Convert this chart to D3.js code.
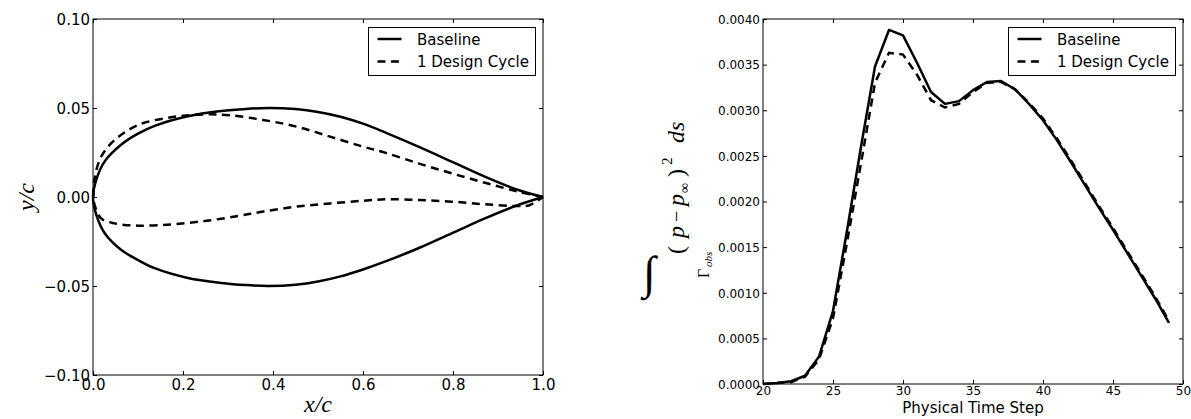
<!DOCTYPE html>
<html>
<head>
<meta charset="utf-8">
<script src="https://cdn.jsdelivr.net/npm/d3@7"></script>
<style>
  body { margin: 0; background: #fff; }
  svg { display: block; }
</style>
</head>
<body>
<div id="chart"></div>
<script>
// ---- data ----
// left panel: airfoil shapes (x/c, y/c)
const baseUpX = [0, 0.0074, 0.026, 0.063, 0.1, 0.137, 0.211, 0.285, 0.34, 0.39, 0.45, 0.5, 0.55, 0.6, 0.65, 0.723, 0.797, 0.871, 0.945, 1.0];
const baseUpY = [0, 0.0098, 0.0200, 0.0295, 0.0356, 0.0400, 0.0454, 0.0483, 0.0495, 0.0500, 0.0494, 0.0478, 0.0451, 0.0412, 0.0362, 0.0283, 0.0199, 0.0114, 0.0039, 0];
const baseLoX = [0, 0.0074, 0.026, 0.063, 0.1, 0.137, 0.211, 0.285, 0.34, 0.39, 0.45, 0.5, 0.55, 0.6, 0.65, 0.723, 0.797, 0.871, 0.945, 1.0];
const baseLoY = [0, -0.0101, -0.0204, -0.0298, -0.0354, -0.0400, -0.0455, -0.0483, -0.0495, -0.0500, -0.0493, -0.0475, -0.0446, -0.0407, -0.0362, -0.0288, -0.0204, -0.0120, -0.0045, 0];
const cycUpX = [0.001, 0.0037, 0.018, 0.048, 0.1, 0.174, 0.248, 0.304, 0.378, 0.453, 0.527, 0.6, 0.649, 0.723, 0.797, 0.871, 0.945, 1.0];
const cycUpY = [0.001, 0.0105, 0.0226, 0.0320, 0.0404, 0.0448, 0.0464, 0.0459, 0.0433, 0.0395, 0.0339, 0.0283, 0.0249, 0.0189, 0.0133, 0.0080, 0.0030, 0];
const cycLoX = [0.001, 0.0037, 0.018, 0.048, 0.1, 0.174, 0.248, 0.322, 0.378, 0.453, 0.527, 0.6, 0.652, 0.723, 0.797, 0.871, 0.945, 0.97, 1.0];
const cycLoY = [0.001, -0.0045, -0.0120, -0.0148, -0.0161, -0.0154, -0.0135, -0.0107, -0.0082, -0.0054, -0.0036, -0.0021, -0.0013, -0.0017, -0.0026, -0.0041, -0.0051, -0.0046, 0];

// right panel: integral of (p - p_inf)^2 per physical time step
const steps = [20, 21, 22, 23, 24, 25, 26, 27, 28, 29, 30, 31, 32, 33, 34, 35, 36, 37, 38, 39, 40, 41, 42, 43, 44, 45, 46, 47, 48, 49];
const baseline = [0.00000, 0.00001, 0.00003, 0.00009, 0.00030, 0.00080, 0.00168, 0.00260, 0.00348, 0.00388,
                  0.00382, 0.00352, 0.00320, 0.00307, 0.00310, 0.00322, 0.00331, 0.00332, 0.00323, 0.00307,
                  0.00289, 0.00267, 0.00243, 0.00218, 0.00193, 0.00169, 0.00144, 0.00119, 0.00094, 0.00067];
const cycle1 = [0.00000, 0.00001, 0.00002, 0.00008, 0.00027, 0.00072, 0.00155, 0.00242, 0.00330, 0.00363,
                0.00361, 0.00339, 0.00311, 0.00303, 0.00307, 0.00320, 0.00330, 0.00331, 0.00323, 0.00308,
                0.00291, 0.00269, 0.00245, 0.00220, 0.00195, 0.00171, 0.00146, 0.00121, 0.00096, 0.00069];

const leftXTicks = [0, 0.2, 0.4, 0.6, 0.8, 1.0];
const leftYTicks = [-0.10, -0.05, 0.00, 0.05, 0.10];
const rightXTicks = [20, 25, 30, 35, 40, 45, 50];
const rightYTicks = [0, 0.0005, 0.001, 0.0015, 0.002, 0.0025, 0.003, 0.0035, 0.004];
const legendNames = ["Baseline", "1 Design Cycle"];

// ---- setup ----
const W = 1191, H = 419;
const SANS = "'DejaVu Sans', sans-serif";
const SERIF = "'Liberation Serif', 'DejaVu Serif', serif";
const DASH = "8,5.5";

const svg = d3.select("#chart").append("svg")
  .attr("width", W).attr("height", H);

function panel(box, x, y, xTicks, yTicks, xFmt, yFmt, fs, xPad) {
  const g = svg.append("g").attr("transform", `translate(${box.left},${box.top})`);
  const inner = (axis) => axis.tickSizeInner(-4).tickSizeOuter(0);

  g.append("g").attr("transform", `translate(0,${box.height})`)
    .call(inner(d3.axisBottom(x).tickValues(xTicks).tickFormat(xFmt)).tickPadding(xPad));
  const gl = g.append("g")
    .call(inner(d3.axisLeft(y).tickValues(yTicks).tickFormat(yFmt)).tickPadding(3));
  g.append("g")
    .call(inner(d3.axisTop(x).tickValues(xTicks).tickFormat("")));
  g.append("g").attr("transform", `translate(${box.width},0)`)
    .call(inner(d3.axisRight(y).tickValues(yTicks).tickFormat("")));

  g.selectAll(".domain").remove();
  g.selectAll(".tick line").attr("stroke", "#000").attr("stroke-width", 1);
  g.selectAll(".tick text")
    .attr("fill", "#000")
    .style("font-family", SANS)
    .style("font-size", fs + "px");
  gl.selectAll(".tick text").attr("dy", "0.36em");

  g.append("rect")
    .attr("width", box.width).attr("height", box.height)
    .attr("fill", "none").attr("stroke", "#000").attr("stroke-width", 1);
  return g;
}

function legend(g, box) {
  const lg = g.append("g").attr("transform", `translate(${box.width - 175},8)`);
  lg.append("rect")
    .attr("x", 0.5).attr("y", 0.5).attr("width", 167).attr("height", 48)
    .attr("fill", "#fff").attr("stroke", "#000").attr("stroke-width", 1);
  legendNames.forEach((name, i) => {
    const yy = 12 + i * 22.4;
    lg.append("line")
      .attr("x1", 9.5).attr("x2", 33.5).attr("y1", yy).attr("y2", yy)
      .attr("stroke", "#000").attr("stroke-width", 2.5)
      .attr("stroke-dasharray", i ? DASH : null);
    lg.append("text")
      .attr("x", 49).attr("y", yy + 5.5)
      .style("font-family", SANS).style("font-size", "15px")
      .text(name);
  });
}

// ---- left panel: airfoil ----
const LB = { left: 93, top: 19, width: 450, height: 356 };
const xL = d3.scaleLinear().domain([0, 1]).range([0, LB.width]);
const yL = d3.scaleLinear().domain([-0.1, 0.1]).range([LB.height, 0]);
const gL = panel(LB, xL, yL, leftXTicks, leftYTicks, d3.format(".1f"), d3.format(".2f"), 15, 4);

const zip = (xs, ys) => xs.map((v, i) => [v, ys[i]]);
const loop = (ux, uy, lx, ly) => zip(ux, uy).reverse().concat(zip(lx, ly).slice(1));
const airfoil = d3.line()
  .x(d => xL(d[0])).y(d => yL(d[1]))
  .curve(d3.curveCatmullRom.alpha(0.5));

gL.append("path")
  .attr("d", airfoil(loop(baseUpX, baseUpY, baseLoX, baseLoY)))
  .attr("fill", "none").attr("stroke", "#000").attr("stroke-width", 2.5);
gL.append("path")
  .attr("d", airfoil(loop(cycUpX, cycUpY, cycLoX, cycLoY)))
  .attr("fill", "none").attr("stroke", "#000").attr("stroke-width", 2.5)
  .attr("stroke-dasharray", DASH);
legend(gL, LB);

// axis titles (math italic)
svg.append("text")
  .attr("transform", `translate(34,${LB.top + LB.height / 2}) rotate(-90)`)
  .attr("text-anchor", "middle")
  .style("font-family", SERIF).style("font-style", "italic").style("font-size", "24px")
  .text("y/c");
svg.append("text")
  .attr("x", LB.left + LB.width / 2).attr("y", 412)
  .attr("text-anchor", "middle")
  .style("font-family", SERIF).style("font-style", "italic").style("font-size", "24px")
  .text("x/c");

// ---- right panel: time history ----
const RB = { left: 763, top: 19, width: 420, height: 365 };
const xR = d3.scaleLinear().domain([20, 50]).range([0, RB.width]);
const yR = d3.scaleLinear().domain([0, 0.004]).range([RB.height, 0]);
const gR = panel(RB, xR, yR, rightXTicks, rightYTicks, d3.format("d"), d3.format(".4f"), 12, 2);

const hist = d3.line().x((d, i) => xR(steps[i])).y(d => yR(d));
gR.append("path").attr("d", hist(baseline))
  .attr("fill", "none").attr("stroke", "#000").attr("stroke-width", 2.5)
  .attr("stroke-linejoin", "round");
gR.append("path").attr("d", hist(cycle1))
  .attr("fill", "none").attr("stroke", "#000").attr("stroke-width", 2.5)
  .attr("stroke-dasharray", DASH);
legend(gR, RB);

svg.append("text")
  .attr("x", RB.left + RB.width / 2).attr("y", 413)
  .attr("text-anchor", "middle")
  .style("font-family", SANS).style("font-size", "15px")
  .text("Physical Time Step");

// y label: ∫_{Γobs} (p−p∞)² ds — the integral sign stands upright as in the source
svg.append("text")
  .attr("x", 643).attr("y", 288)
  .style("font-family", SERIF).style("font-style", "italic").style("font-size", "46px")
  .text("\u222B");
const yl = svg.append("g").attr("transform", "translate(684,300) rotate(-90)")
  .style("font-family", SERIF).attr("fill", "#000");
const glyph = (t, u, v, size, italic) => yl.append("text")
  .attr("x", u).attr("y", v)
  .style("font-size", size + "px")
  .style("font-style", italic ? "italic" : "normal")
  .text(t);
glyph("\u0393", 22, 25, 16, false);
glyph("obs", 33, 28, 11, true);
glyph("(", 46, 0, 24, false);
glyph("p", 62, 0, 24, true);
glyph("\u2212", 78, -1, 20, false);
glyph("p", 94, 0, 24, true);
glyph("\u221E", 107, 5, 14, false);
glyph(")", 123, 0, 24, false);
glyph("2", 135, -12, 15, false);
glyph("ds", 157, 0, 24, true);
</script>
</body>
</html>
